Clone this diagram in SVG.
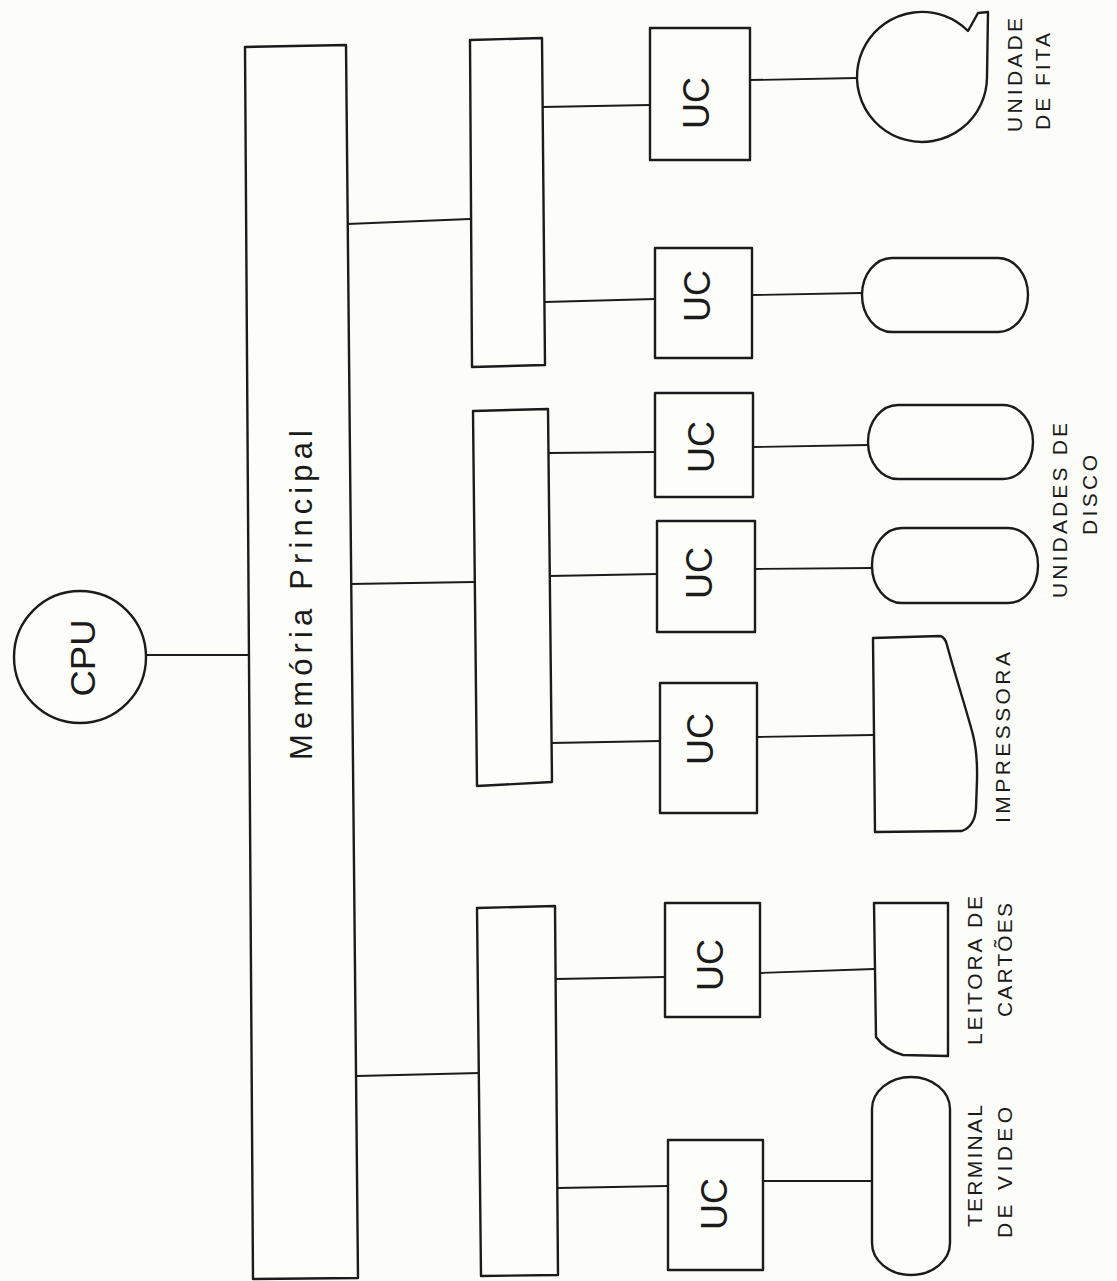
<svg xmlns="http://www.w3.org/2000/svg" width="1117" height="1281" viewBox="0 0 1117 1281">
<style>
.bg{fill:#fcfcf8}
.box{fill:#fdfdf9;stroke:#1b1b1b;stroke-width:2.4;stroke-linejoin:round}
.ln{fill:none;stroke:#1b1b1b;stroke-width:1.8}
.t{font-family:"Liberation Sans",Arial,sans-serif;fill:#1b1b1b}
.uc{font-size:36px;text-anchor:middle}
.lb{font-size:21px}
</style>
<rect class="bg" x="0" y="0" width="1117" height="1281"/>

<g id="connectors">
<line class="ln" x1="147" y1="655" x2="248" y2="655"/>
<line class="ln" x1="347" y1="224" x2="470" y2="219"/>
<line class="ln" x1="350" y1="584" x2="474" y2="582"/>
<line class="ln" x1="357" y1="1076" x2="480" y2="1073"/>
<line class="ln" x1="542" y1="107" x2="650" y2="105"/>
<line class="ln" x1="545" y1="302" x2="655" y2="299"/>
<line class="ln" x1="548" y1="453" x2="655" y2="452"/>
<line class="ln" x1="549" y1="576" x2="657" y2="574"/>
<line class="ln" x1="551" y1="743" x2="660" y2="741"/>
<line class="ln" x1="556" y1="979" x2="665" y2="977"/>
<line class="ln" x1="558" y1="1188" x2="668" y2="1186"/>
<line class="ln" x1="750" y1="80" x2="857" y2="78"/>
<line class="ln" x1="752" y1="295" x2="862" y2="293"/>
<line class="ln" x1="753" y1="447" x2="868" y2="445"/>
<line class="ln" x1="755" y1="569" x2="872" y2="568"/>
<line class="ln" x1="757" y1="737" x2="873" y2="735"/>
<line class="ln" x1="760" y1="973" x2="874" y2="969"/>
<line class="ln" x1="763" y1="1181" x2="872" y2="1181"/>
</g>

<g id="cpu">
<circle class="box" cx="80" cy="657" r="66"/>
<text class="t" font-size="35" text-anchor="middle" textLength="77" lengthAdjust="spacingAndGlyphs" transform="translate(95,658) rotate(-90)">CPU</text>
</g>

<g id="memoria">
<polygon class="box" points="245,47 346,45 358,1278 253,1279"/>
<text class="t" font-size="31" text-anchor="middle" textLength="330" lengthAdjust="spacing" transform="translate(312,595) rotate(-90)">Memória Principal</text>
</g>

<g id="canal1"><polygon class="box" points="470,40 542,38 545,365 472,367"/></g>
<g id="canal2"><polygon class="box" points="473,411 548,409 552,782 477,786"/></g>
<g id="canal3"><polygon class="box" points="477,908 555,906 558,1275 481,1276"/></g>

<g id="uc1"><rect class="box" x="650" y="28" width="100" height="132"/>
<text class="t uc" transform="translate(709,103) rotate(-90)">UC</text></g>
<g id="uc2"><rect class="box" x="655" y="248" width="97" height="110"/>
<text class="t uc" transform="translate(710,296) rotate(-90)">UC</text></g>
<g id="uc3"><rect class="box" x="655" y="393" width="98" height="104"/>
<text class="t uc" transform="translate(714,447) rotate(-90)">UC</text></g>
<g id="uc4"><rect class="box" x="657" y="521" width="98" height="111"/>
<text class="t uc" transform="translate(712,573) rotate(-90)">UC</text></g>
<g id="uc5"><rect class="box" x="660" y="683" width="97" height="130"/>
<text class="t uc" transform="translate(713,739) rotate(-90)">UC</text></g>
<g id="uc6"><rect class="box" x="665" y="903" width="95" height="114"/>
<text class="t uc" transform="translate(723,965) rotate(-90)">UC</text></g>
<g id="uc7"><rect class="box" x="668" y="1140" width="95" height="130"/>
<text class="t uc" transform="translate(727,1204) rotate(-90)">UC</text></g>

<g id="fita">
<path class="box" d="M987,77 A65,65 0 1 1 968,31 L978,13 L988,12 Z"/>
<text class="t lb" textLength="114" lengthAdjust="spacing" transform="translate(1022,132) rotate(-90)">UNIDADE</text>
<text class="t lb" textLength="97" lengthAdjust="spacing" transform="translate(1050,130) rotate(-90)">DE FITA</text>
</g>

<g id="disco1"><rect class="box" x="862" y="258" width="166" height="74" rx="30" ry="37"/></g>
<g id="disco2"><rect class="box" x="868" y="405" width="165" height="74" rx="30" ry="37"/></g>
<g id="disco3"><rect class="box" x="872" y="528" width="166" height="75" rx="30" ry="37"/></g>
<g id="discos-label">
<text class="t lb" textLength="175" lengthAdjust="spacing" transform="translate(1067,598) rotate(-90)">UNIDADES DE</text>
<text class="t lb" textLength="80" lengthAdjust="spacing" transform="translate(1097,535) rotate(-90)">DISCO</text>
</g>

<g id="impressora">
<path class="box" d="M873,638 L940,636 Q945,637 947,645 C955,675 968,715 973,735 C978,755 977,770 977,780 L976,808 Q975,826 962,831 L875,832 Z"/>
<text class="t lb" textLength="171" lengthAdjust="spacing" transform="translate(1010,823) rotate(-90)">IMPRESSORA</text>
</g>

<g id="leitora">
<path class="box" d="M874,903 L948,903 L948,1056 L903,1055 Q885,1050 876,1037 Z"/>
<text class="t lb" textLength="149" lengthAdjust="spacing" transform="translate(982,1045) rotate(-90)">LEITORA DE</text>
<text class="t lb" textLength="114" lengthAdjust="spacing" transform="translate(1012,1017) rotate(-90)">CARTÕES</text>
</g>

<g id="terminal">
<rect class="box" x="872" y="1077" width="78" height="198" rx="39" ry="32"/>
<text class="t lb" textLength="122" lengthAdjust="spacing" transform="translate(982,1227) rotate(-90)">TERMINAL</text>
<text class="t lb" textLength="131" lengthAdjust="spacing" transform="translate(1012,1238) rotate(-90)">DE VIDEO</text>
</g>
</svg>
